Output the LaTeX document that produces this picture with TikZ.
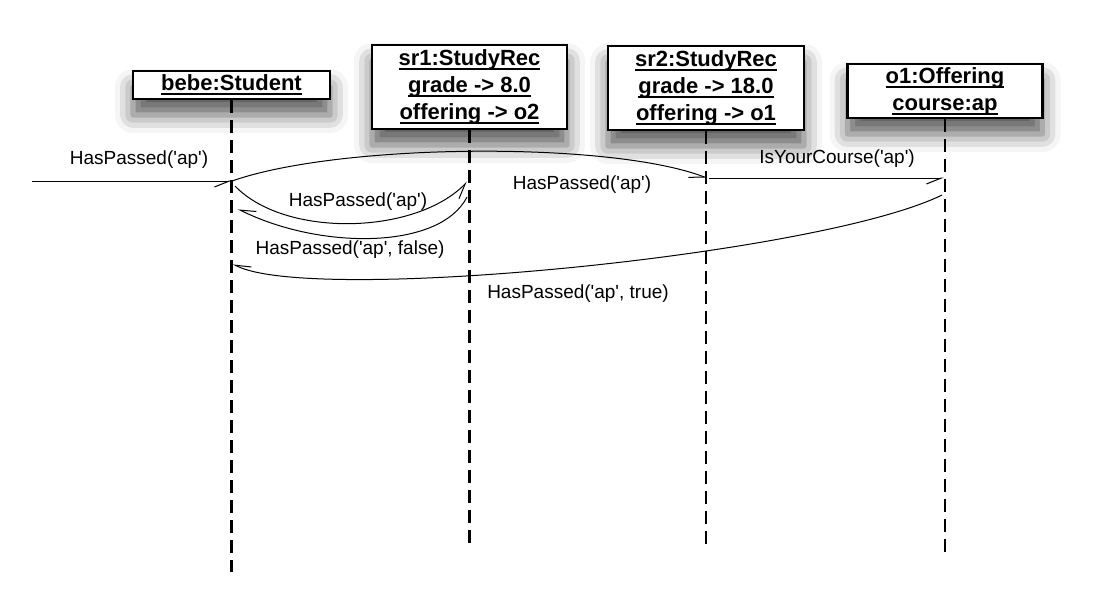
\documentclass[tikz,border=0pt]{standalone}
\usepackage{fontspec}
\setmainfont{Liberation Sans}[Ligatures=TeXOff]
\usepackage{tikz}
\usetikzlibrary{arrows.meta, shadows.blur}
\newcommand{\ulin}[1]{\setbox0\hbox{#1}\rlap{\rule[-2.2pt]{\wd0}{0.9pt}}\box0}

\begin{document}
\begin{tikzpicture}[
  x=0.5pt, y=-0.5pt,
  obj/.style={draw, line width=1.2pt, fill=white, align=center, inner sep=0pt,
    minimum width=97.5pt, font=\fontsize{11}{13.5}\selectfont\bfseries,
    blur shadow={shadow xshift=0pt, shadow yshift=-8pt, shadow blur radius=9pt, shadow opacity=65}},
  lifeline/.style={line width=1.3pt, dash pattern=on 6.5pt off 3.5pt},
  msg/.style={line width=0.5pt, -{Straight Barb[right, length=7.5pt, width=6pt]}},
  lbl/.style={font=\fontsize{9.5}{11}\selectfont, inner sep=0pt}
]
\useasboundingbox (0,0) rectangle (1097,600);

% ---------- OBJECTS ----------
\node[obj, minimum width=98.5pt, minimum height=14pt] (bebe) at (231.5,85) {\ulin{bebe:Student}};
\node[obj, minimum height=42pt] (sr1) at (469.5,87) {\ulin{sr1:StudyRec}\\\ulin{grade -> 8.0}\\\ulin{offering -> o2}};
\node[obj, minimum width=98pt, minimum height=42pt] (sr2) at (706,88) {\ulin{sr2:StudyRec}\\\ulin{grade -> 18.0}\\\ulin{offering -> o1}};
\node[obj, minimum height=27pt] (o1) at (945,91) {\ulin{o1:Offering}\\\ulin{course:ap}};

% ---------- LIFELINES ----------
\coordinate (bebeEnd) at (231.5,572);
\coordinate (sr1End) at (469.5,544);
\coordinate (sr2End) at (706,545);
\coordinate (o1End) at (945,556);
\draw[lifeline] (bebe.south) -- (bebeEnd);
\draw[lifeline] (sr1.south) -- (sr1End);
\draw[lifeline] (sr2.south) -- (sr2End);
\draw[lifeline] (o1.south) -- (o1End);

% ---------- MESSAGES ----------
\coordinate (caller) at (32,181);
\coordinate (bebeIn) at (232,181);
\coordinate (bebeOut) at (235,186);
\coordinate (bebeBack) at (238,209);
\coordinate (bebeTrue) at (233,264);
\coordinate (sr1In) at (467,182);
\coordinate (sr1Out) at (467,197);
\coordinate (sr2In) at (707,178);
\coordinate (sr2Out) at (709,178);
\coordinate (o1In) at (944,178);
\coordinate (o1Out) at (942,195);

\draw[msg] (caller) -- (bebeIn);
\node[lbl] (m1) at (139,160) {HasPassed('ap')};

\draw[msg] (bebeIn) .. controls (340,143) and (610,141) .. (sr2In);
\node[lbl] (m2) at (582,185) {HasPassed('ap')};

\draw[msg] (bebeOut) .. controls (285,238) and (415,235) .. (sr1In);
\node[lbl] (m3) at (358,202) {HasPassed('ap')};

\draw[msg] (sr1Out) .. controls (440,250) and (320,250) .. (bebeBack);
\node[lbl] (m4) at (350,250) {HasPassed('ap', false)};

\draw[msg] (sr2Out) -- (o1In);
\node[lbl] (m5) at (837,159) {IsYourCourse('ap')};

\draw[msg] (o1Out) .. controls (820,255) and (310,305) .. (bebeTrue);
\node[lbl] (m6) at (578,294) {HasPassed('ap', true)};

\end{tikzpicture}
\end{document}
